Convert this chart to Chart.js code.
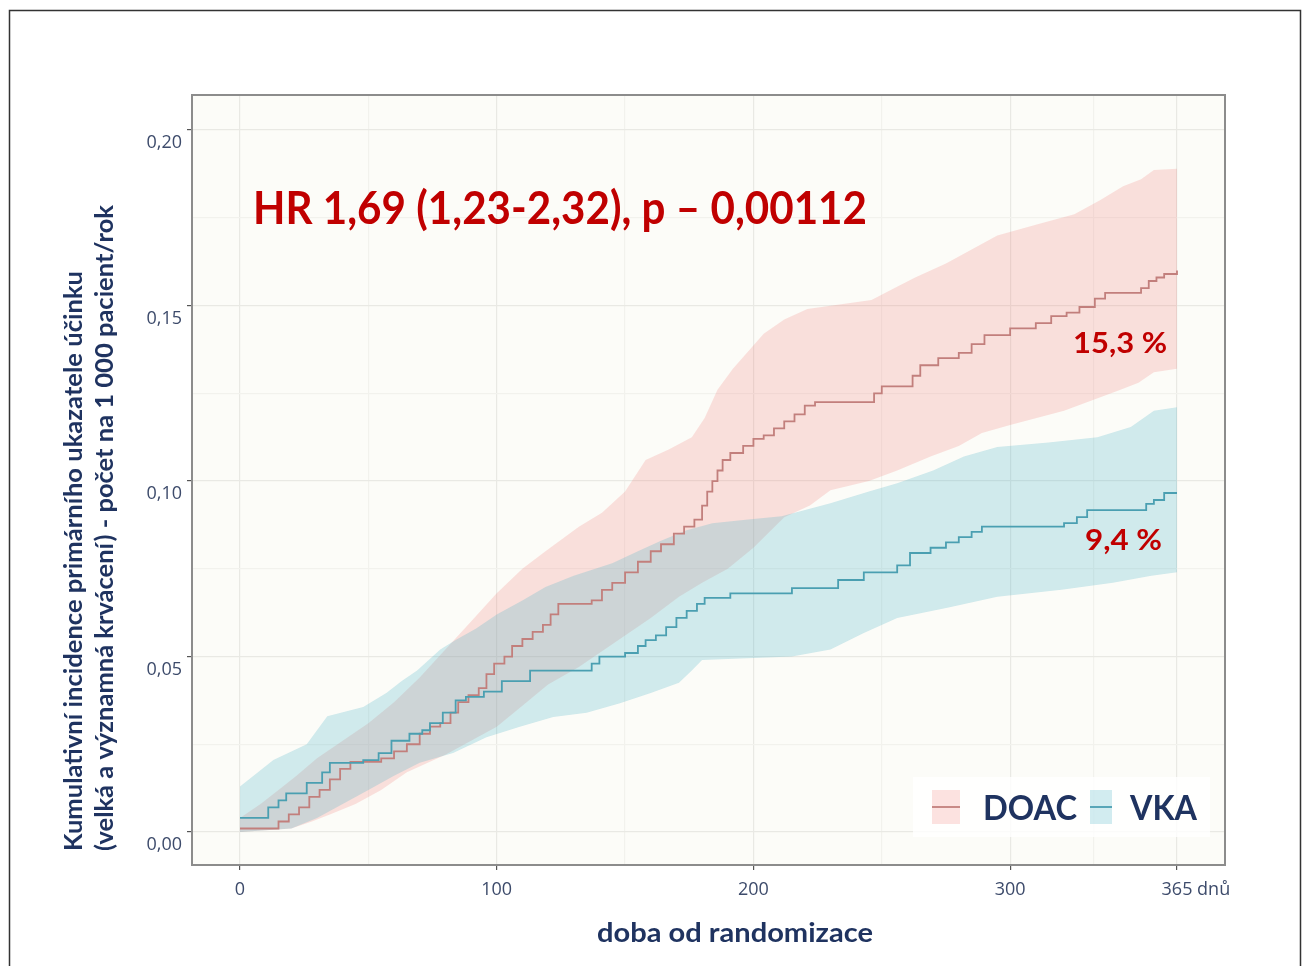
<!DOCTYPE html>
<html>
<head>
<meta charset="utf-8">
<script src="https://cdn.jsdelivr.net/npm/chart.js@4/dist/chart.umd.min.js"></script>
<style>
  html, body { margin: 0; padding: 0; background: #fff; }
  canvas { display: block; }
</style>
</head>
<body>
<canvas id="kmChart" width="1309" height="966"></canvas>
<script>
// (dny od randomizace, kumulativní incidence)
const doacDays = [0, 15, 19, 23, 27, 31, 35, 39, 43, 55, 60, 65, 70, 74, 78, 82, 85, 89, 93, 96, 99, 103, 106, 110, 114, 118, 121, 124, 137, 141, 145, 150, 155, 160, 164, 169, 173, 177, 180, 182, 184, 186, 188, 191, 196, 200, 204, 208, 212, 216, 220, 224, 247, 250, 262, 265, 272, 280, 285, 290, 300, 310, 316, 322, 327, 333, 337, 351, 354, 357, 360, 365];
const doacRisk = [0.001, 0.003, 0.005, 0.007, 0.010, 0.012, 0.015, 0.018, 0.020, 0.021, 0.023, 0.025, 0.028, 0.030, 0.031, 0.034, 0.037, 0.039, 0.041, 0.045, 0.048, 0.050, 0.053, 0.055, 0.057, 0.059, 0.062, 0.065, 0.066, 0.069, 0.071, 0.074, 0.077, 0.080, 0.082, 0.085, 0.087, 0.089, 0.093, 0.097, 0.100, 0.103, 0.106, 0.108, 0.110, 0.112, 0.113, 0.115, 0.117, 0.119, 0.1215, 0.1225, 0.125, 0.127, 0.130, 0.133, 0.135, 0.1365, 0.139, 0.1416, 0.1435, 0.145, 0.147, 0.148, 0.1496, 0.152, 0.1536, 0.155, 0.157, 0.158, 0.159, 0.160];

const doacUpperDays = [0, 8, 15, 22, 30, 40, 50, 60, 70, 80, 90, 100, 110, 119, 132, 141, 150, 158, 167, 176, 181, 186, 192, 198, 204, 212, 221, 246, 255, 263, 275, 285, 295, 310, 325, 335, 344, 351, 356, 365];
const doacUpper = [0.004, 0.008, 0.012, 0.016, 0.021, 0.026, 0.031, 0.037, 0.044, 0.052, 0.060, 0.068, 0.075, 0.080, 0.087, 0.091, 0.097, 0.106, 0.109, 0.1125, 0.118, 0.126, 0.132, 0.137, 0.142, 0.146, 0.149, 0.1516, 0.155, 0.158, 0.162, 0.166, 0.170, 0.173, 0.176, 0.180, 0.184, 0.186, 0.1886, 0.189];

const doacLowerDays = [0, 20, 28, 35, 45, 55, 65, 80, 90, 100, 110, 120, 132, 140, 150, 160, 171, 180, 190, 200, 212, 222, 230, 245, 256, 269, 280, 289, 300, 321, 332, 343, 350, 356, 365];
const doacLower = [0.000, 0.001, 0.003, 0.005, 0.008, 0.012, 0.017, 0.022, 0.026, 0.030, 0.036, 0.042, 0.047, 0.051, 0.056, 0.061, 0.067, 0.071, 0.075, 0.081, 0.0897, 0.093, 0.0974, 0.100, 0.103, 0.107, 0.110, 0.1137, 0.116, 0.120, 0.123, 0.126, 0.128, 0.131, 0.132];

const vkaDays = [0, 11, 15, 18, 26, 32, 35, 48, 54, 59, 66, 71, 74, 79, 84, 88, 95, 102, 113, 137, 140, 150, 155, 158, 162, 166, 170, 174, 178, 181, 191, 215, 233, 243, 256, 261, 269, 275, 280, 285, 289, 321, 326, 330, 353, 356, 360, 365];
const vkaRisk = [0.004, 0.007, 0.009, 0.011, 0.014, 0.017, 0.0197, 0.0205, 0.0225, 0.026, 0.028, 0.029, 0.031, 0.034, 0.0375, 0.0385, 0.040, 0.043, 0.046, 0.048, 0.050, 0.051, 0.053, 0.0547, 0.056, 0.0584, 0.061, 0.063, 0.065, 0.0667, 0.068, 0.0695, 0.0718, 0.074, 0.076, 0.0795, 0.081, 0.0825, 0.084, 0.0855, 0.087, 0.088, 0.0897, 0.0917, 0.0935, 0.0946, 0.0966, 0.0966];

const vkaUpperDays = [0, 13, 26, 34, 48, 57, 63, 69, 78, 84, 92, 100, 110, 119, 130, 145, 155, 164, 174, 184, 197, 211, 230, 245, 256, 270, 282, 295, 315, 334, 347, 356, 365];
const vkaUpper = [0.013, 0.0205, 0.025, 0.033, 0.0356, 0.0396, 0.043, 0.046, 0.052, 0.0547, 0.058, 0.062, 0.066, 0.0698, 0.073, 0.0766, 0.080, 0.083, 0.086, 0.088, 0.089, 0.090, 0.0937, 0.097, 0.0994, 0.103, 0.107, 0.1097, 0.111, 0.1125, 0.1154, 0.120, 0.121];

const vkaLowerDays = [0, 20, 30, 40, 50, 60, 70, 83, 96, 109, 122, 135, 148, 160, 171, 176, 180, 215, 230, 243, 256, 276, 295, 320, 340, 355, 365];
const vkaLower = [0.000, 0.001, 0.004, 0.008, 0.012, 0.016, 0.0197, 0.0225, 0.027, 0.030, 0.0328, 0.034, 0.0367, 0.0396, 0.0425, 0.046, 0.049, 0.050, 0.052, 0.0567, 0.061, 0.064, 0.067, 0.069, 0.071, 0.073, 0.074];

const xTicks = [0, 50, 100, 150, 200, 250, 300, 332.5, 365];
const xMajor = [0, 100, 200, 300, 365];
const yTicks = [0, 0.025, 0.05, 0.075, 0.10, 0.125, 0.15, 0.175, 0.20];
const yMajor = [0, 0.05, 0.10, 0.15, 0.20];

const hrText = "HR 1,69 (1,23-2,32), p – 0,00112";
const doacEndLabel = "15,3 %";
const vkaEndLabel = "9,4 %";
const yTitle1 = "Kumulativní incidence primárního ukazatele účinku";
const yTitle2 = "(velká a významná krvácení) - počet na 1 000 pacient/rok";
const xTitle = "doba od randomizace";
const legendNames = ["DOAC", "VKA"];

const RED_BAND = "rgba(240, 120, 115, 0.21)";
const BLUE_BAND = "rgba(75, 178, 200, 0.25)";
const RED_LINE = "#c27f7c";
const BLUE_LINE = "#4a9fb1";
const NAVY = "#1f3360";
const TICK_COL = "#3d4b6b";
const HR_RED = "#c00000";

const pts = (xs, ys) => xs.map((x, i) => ({ x: x, y: ys[i] }));
const isMajor = (arr, v) => arr.some(m => Math.abs(m - v) < 1e-9);

// text stretched/squeezed to a given width (reference font is narrower)
const fitText = (ctx, txt, x, y, w, font, color, rot) => {
    ctx.save();
    ctx.font = font;
    ctx.fillStyle = color;
    ctx.textAlign = "left";
    ctx.textBaseline = "alphabetic";
    const m = ctx.measureText(txt).width;
    ctx.translate(x, y);
    if (rot) ctx.rotate(rot);
    ctx.scale(w / m, 1);
    ctx.fillText(txt, 0, 0);
    ctx.restore();
};

const decorPlugin = {
    id: "decor",
    beforeDraw(chart) {
        const ctx = chart.ctx;
        const a = chart.chartArea;
        ctx.save();
        ctx.fillStyle = "#fff";
        ctx.fillRect(0, 0, chart.width, chart.height);
        // outer frame
        ctx.strokeStyle = "#333";
        ctx.lineWidth = 1.5;
        ctx.beginPath();
        ctx.moveTo(9.5, 966);
        ctx.lineTo(9.5, 10.5);
        ctx.lineTo(1300.5, 10.5);
        ctx.lineTo(1300.5, 966);
        ctx.stroke();
        // panel
        ctx.fillStyle = "#fcfcf8";
        ctx.fillRect(a.left, a.top, a.right - a.left, a.bottom - a.top);
        ctx.restore();
    },
    afterDraw(chart) {
        const ctx = chart.ctx;
        const a = chart.chartArea;
        const xs = chart.scales.x;
        ctx.save();
        ctx.strokeStyle = "#8c8c8c";
        ctx.lineWidth = 2;
        ctx.strokeRect(a.left, a.top, a.right - a.left, a.bottom - a.top);

        // "dnů" after the 365 tick label
        ctx.font = "18px 'Open Sans'";
        ctx.fillStyle = TICK_COL;
        ctx.textBaseline = "middle";
        ctx.textAlign = "left";
        const x365 = xs.getPixelForValue(365);
        const w365 = ctx.measureText("365").width;
        ctx.fillText(" dnů", x365 + w365 / 2, xs.top + 5 + 9 + 10.8);

        // annotations
        fitText(ctx, hrText, 253, 224, 614, "bold 46px Lato", HR_RED);
        fitText(ctx, doacEndLabel, 1073, 353, 94, "bold 29px Lato", HR_RED);
        fitText(ctx, vkaEndLabel, 1085, 550, 77, "bold 29px Lato", HR_RED);

        // axis titles
        fitText(ctx, yTitle1, 82, 851, 580, "bold 25px Lato", NAVY, -Math.PI / 2);
        fitText(ctx, yTitle2, 113, 851, 646, "bold 25px Lato", NAVY, -Math.PI / 2);
        fitText(ctx, xTitle, 597, 942, 276, "bold 26px Lato", NAVY);

        // legend
        ctx.fillStyle = "rgba(255,255,255,0.8)";
        ctx.fillRect(913, 777, 297, 60);
        const keys = [
            { x: 932, w: 28, band: RED_BAND, line: RED_LINE },
            { x: 1090, w: 22, band: BLUE_BAND, line: BLUE_LINE }
        ];
        keys.forEach(k => {
            ctx.fillStyle = k.band;
            ctx.fillRect(k.x, 790, k.w, 34);
            ctx.strokeStyle = k.line;
            ctx.lineWidth = 1.8;
            ctx.beginPath();
            ctx.moveTo(k.x, 807);
            ctx.lineTo(k.x + k.w, 807);
            ctx.stroke();
        });
        fitText(ctx, legendNames[0], 983, 820, 94, "bold 35px Lato", NAVY);
        fitText(ctx, legendNames[1], 1130, 820, 67, "bold 35px Lato", NAVY);
        ctx.restore();
    }
};

// confidence bands: edges joined straight (the fine steps of the original blur into a slope)
const band = (data, color, fill) => ({
    data: data,
    stepped: false,
    tension: 0,
    borderWidth: 0,
    borderColor: "transparent",
    backgroundColor: color,
    pointRadius: 0,
    fill: fill
});

const ctx = document.getElementById("kmChart").getContext("2d");
new Chart(ctx, {
    type: "line",
    data: {
        datasets: [
            { ...band(pts(doacUpperDays, doacUpper), RED_BAND, "+1"), order: 4 },
            { ...band(pts(doacLowerDays, doacLower), RED_BAND, false), order: 4 },
            { ...band(pts(vkaUpperDays, vkaUpper), BLUE_BAND, "+1"), order: 3 },
            { ...band(pts(vkaLowerDays, vkaLower), BLUE_BAND, false), order: 3 },
            {
                label: legendNames[0],
                data: pts(doacDays, doacRisk),
                stepped: true,
                borderColor: RED_LINE,
                borderWidth: 1.8,
                pointRadius: 0,
                fill: false,
                order: 1
            },
            {
                label: legendNames[1],
                data: pts(vkaDays, vkaRisk),
                stepped: true,
                borderColor: BLUE_LINE,
                borderWidth: 1.8,
                pointRadius: 0,
                fill: false,
                order: 0
            }
        ]
    },
    options: {
        responsive: false,
        animation: false,
        layout: { padding: { top: 95, right: 84, left: 0, bottom: 0 } },
        plugins: {
            legend: { display: false },
            tooltip: { enabled: false }
        },
        scales: {
            x: {
                type: "linear",
                min: -18.7,
                max: 383.7,
                afterBuildTicks: s => { s.ticks = xTicks.map(v => ({ value: v })); },
                afterFit: s => { s.height = 101; },
                border: { display: false },
                grid: {
                    color: c => isMajor(xMajor, c.tick.value) ? "#e9e9e4" : "#f2f2ed",
                    tickColor: c => isMajor(xMajor, c.tick.value) ? "#555" : "transparent",
                    tickLength: 5,
                    lineWidth: 1.2
                },
                ticks: {
                    autoSkip: false,
                    maxRotation: 0,
                    padding: 9,
                    color: TICK_COL,
                    font: { family: "'Open Sans'", size: 18 },
                    callback: v => isMajor(xMajor, v) ? String(v) : ""
                }
            },
            y: {
                min: -0.0094,
                max: 0.2100,
                afterBuildTicks: s => { s.ticks = yTicks.map(v => ({ value: v })); },
                afterFit: s => { s.width = 192; },
                border: { display: false },
                grid: {
                    color: c => isMajor(yMajor, c.tick.value) ? "#e9e9e4" : "#f2f2ed",
                    tickColor: c => isMajor(yMajor, c.tick.value) ? "#555" : "transparent",
                    tickLength: 5,
                    lineWidth: 1.2
                },
                ticks: {
                    padding: 5,
                    labelOffset: 13,
                    color: TICK_COL,
                    font: { family: "'Open Sans'", size: 18 },
                    callback: v => isMajor(yMajor, v) ? v.toFixed(2).replace(".", ",") : ""
                }
            }
        }
    },
    plugins: [decorPlugin]
});
</script>
</body>
</html>
